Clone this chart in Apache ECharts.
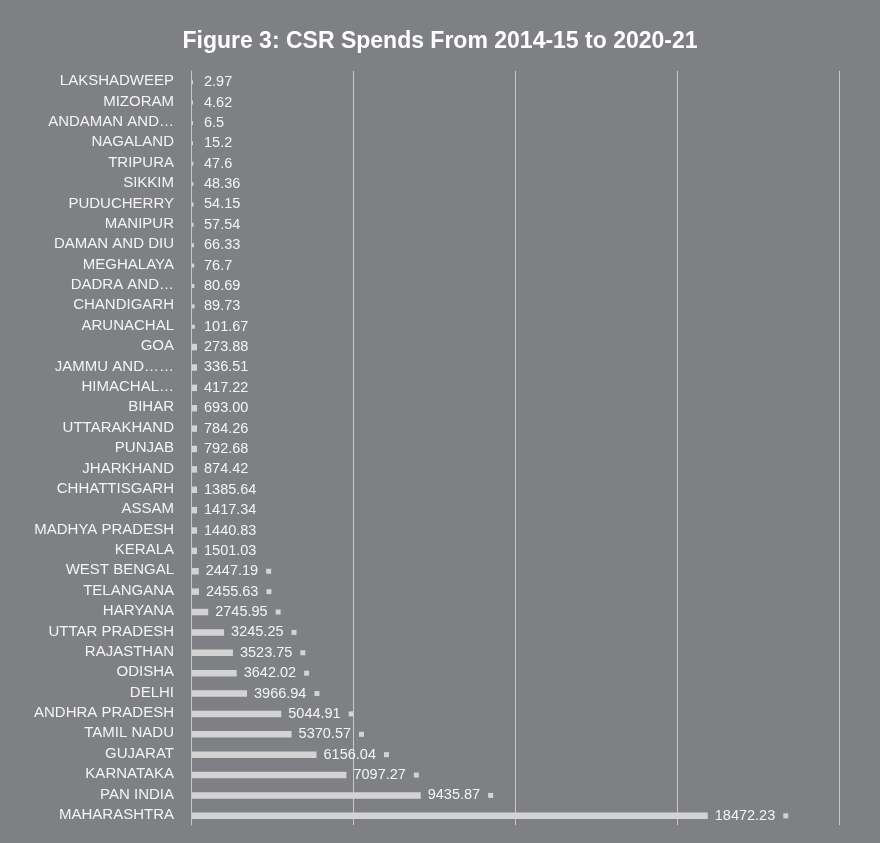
<!DOCTYPE html>
<html><head><meta charset="utf-8">
<script src="https://cdn.jsdelivr.net/npm/echarts/dist/echarts.min.js"></script>
<style>html,body{margin:0;padding:0;background:#7f8084;}#c{width:880px;height:843px;}</style>
</head><body><div id="c"></div>
<script>
const categories = ["LAKSHADWEEP","MIZORAM","ANDAMAN AND…","NAGALAND","TRIPURA","SIKKIM","PUDUCHERRY","MANIPUR","DAMAN AND DIU","MEGHALAYA","DADRA AND…","CHANDIGARH","ARUNACHAL","GOA","JAMMU AND……","HIMACHAL…","BIHAR","UTTARAKHAND","PUNJAB","JHARKHAND","CHHATTISGARH","ASSAM","MADHYA PRADESH","KERALA","WEST BENGAL","TELANGANA","HARYANA","UTTAR PRADESH","RAJASTHAN","ODISHA","DELHI","ANDHRA PRADESH","TAMIL NADU","GUJARAT","KARNATAKA","PAN INDIA","MAHARASHTRA"];
const values = [2.97,4.62,6.5,15.2,47.6,48.36,54.15,57.54,66.33,76.7,80.69,89.73,101.67,273.88,336.51,417.22,693.00,784.26,792.68,874.42,1385.64,1417.34,1440.83,1501.03,2447.19,2455.63,2745.95,3245.25,3523.75,3642.02,3966.94,5044.91,5370.57,6156.04,7097.27,9435.87,18472.23];
const valueLabels = ["2.97","4.62","6.5","15.2","47.6","48.36","54.15","57.54","66.33","76.7","80.69","89.73","101.67","273.88","336.51","417.22","693.00","784.26","792.68","874.42","1385.64","1417.34","1440.83","1501.03","2447.19","2455.63","2745.95","3245.25","3523.75","3642.02","3966.94","5044.91","5370.57","6156.04","7097.27","9435.87","18472.23"];
const XMIN = 2235, XMAX = 22635, XSTEP = 5100;
const BAR = '#d3d3d3', TXT = '#f4f4f4', FONT = '"Liberation Sans", Arial, sans-serif';

const chart = echarts.init(document.getElementById('c'));
chart.setOption({
  backgroundColor: '#7f8084',
  animation: false,
  title: { text: 'Figure 3: CSR Spends From 2014-15 to 2020-21', left: 'center', top: 25,
    textStyle: { color: '#ffffff', fontSize: 23, fontWeight: 'bold', fontFamily: FONT } },
  grid: { left: 191, right: 41, top: 71, bottom: 18 },
  xAxis: { type: 'value', min: XMIN, max: XMAX, interval: XSTEP,
    axisLabel: { show: false }, axisLine: { show: false }, axisTick: { show: false },
    splitLine: { show: true, lineStyle: { color: '#c8c8c8', width: 1 } } },
  yAxis: { type: 'category', data: categories, inverse: true,
    axisLine: { show: true, lineStyle: { color: '#c4c4c4', width: 1 } },
    axisTick: { show: false },
    axisLabel: { color: TXT, fontSize: 15, fontFamily: FONT, margin: 17, padding: [5, 0, 0, 0] } },
  series: [{
    type: 'custom',
    clip: false,
    data: values.map((v, i) => [v, i]),
    encode: { x: 0, y: 1 },
    renderItem: function (params, api) {
      const i = api.value(1);
      const v = values[i];
      const base = api.coord([XMIN, i]);
      const end = api.coord([v, i]);
      const stub = Math.min(5, Math.max(1, v / 35));
      const w = Math.max(end[0] - base[0], stub);
      const h = v < 200 ? 4 : 6.5;
      const y = base[1] + 1;
      const key = v > XMIN;
      return { type: 'group', children: [
        { type: 'rect', shape: { x: base[0] + 1, y: y - h / 2, width: w, height: h }, style: { fill: BAR } },
        { type: 'text', x: base[0] + 1 + Math.max(w, 5) + 7, y: y,
          style: { text: key ? '{v|' + valueLabels[i] + '}{sp|}{k|}' : '{v|' + valueLabels[i] + '}',
            verticalAlign: 'middle', align: 'left',
            rich: { v: { fill: TXT, color: TXT, fontSize: 14.5, fontFamily: FONT },
                    sp: { width: 8, height: 5 },
                    k: { width: 5, height: 5, backgroundColor: BAR } } } }
      ]};
    }
  }]
});
</script>
</body></html>
